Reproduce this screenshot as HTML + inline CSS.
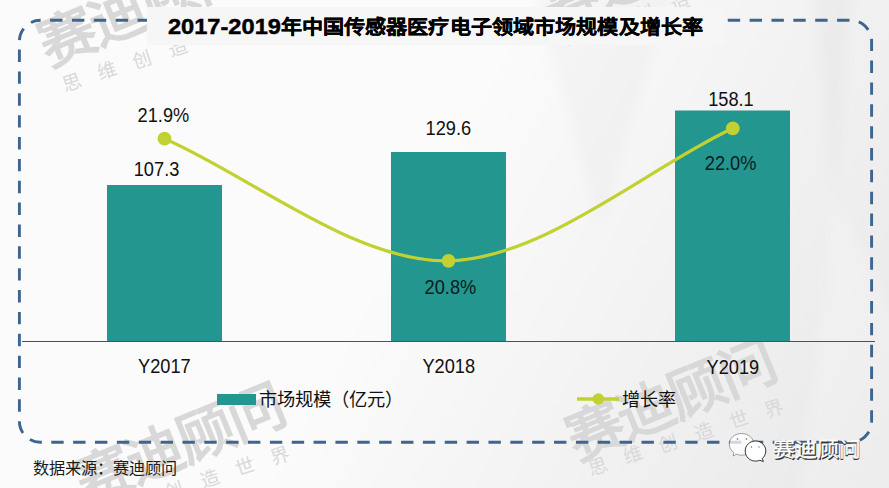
<!DOCTYPE html>
<html lang="zh-CN"><head><meta charset="utf-8">
<style>
html,body{margin:0;padding:0;width:889px;height:488px;overflow:hidden;background:#f6f6f6}
svg{display:block}
text{font-family:"Liberation Sans",sans-serif}
</style></head>
<body>
<svg width="889" height="488" viewBox="0 0 889 488">
<defs>
<linearGradient id="bg" x1="0" y1="0" x2="889" y2="488" gradientUnits="userSpaceOnUse">
<stop offset="0" stop-color="#000" stop-opacity="0"/>
<stop offset="0.45" stop-color="#000" stop-opacity="0"/>
<stop offset="1" stop-color="#000" stop-opacity="0.075"/>
</linearGradient>
<filter id="blur" x="-20%" y="-20%" width="140%" height="140%"><feGaussianBlur stdDeviation="6"/></filter>
</defs>
<rect x="0" y="0" width="889" height="488" fill="#fbfbfb"/>
<rect x="0" y="0" width="889" height="488" fill="url(#bg)"/>
<polygon points="534,-10 672,-10 600,230" fill="#000" fill-opacity="0.02" filter="url(#blur)"/>
<polygon points="812,-10 852,-10 835,200" fill="#000" fill-opacity="0.025" filter="url(#blur)"/>
<polygon points="835,200 800,500 900,500 900,330" fill="#fff" fill-opacity="0.2" filter="url(#blur)"/>
<g transform="translate(67,36) rotate(-22.4)"><text x="-28.5" y="21.7" font-size="57" fill="#d8d8d8" font-weight="900" letter-spacing="-2.3" style="font-family:'Liberation Serif',serif">赛迪顾问</text></g>
<g transform="translate(72,82) rotate(-18.3)"><text x="-9.5" y="7.2" font-size="19" fill="#d9d9d9" letter-spacing="18">思维创造世界</text></g>
<g transform="translate(571,0) rotate(-22.4)"><text x="-28.5" y="21.7" font-size="57" fill="#d8d8d8" font-weight="900" letter-spacing="-2.3" style="font-family:'Liberation Serif',serif">赛迪顾问</text></g>
<g transform="translate(574,36) rotate(-18.3)"><text x="-9.5" y="7.2" font-size="19" fill="#d9d9d9" letter-spacing="18">思维创造世界</text></g>
<g transform="translate(104,474) rotate(-22.4)"><text x="-28.5" y="21.7" font-size="57" fill="#d8d8d8" font-weight="900" letter-spacing="-2.3" style="font-family:'Liberation Serif',serif">赛迪顾问</text></g>
<g transform="translate(104,513) rotate(-18.3)"><text x="-9.5" y="7.2" font-size="19" fill="#d9d9d9" letter-spacing="18">思维创造世界</text></g>
<g transform="translate(595,430) rotate(-22.4)"><text x="-28.5" y="21.7" font-size="57" fill="#d8d8d8" font-weight="900" letter-spacing="-2.3" style="font-family:'Liberation Serif',serif">赛迪顾问</text></g>
<g transform="translate(598,466) rotate(-18.3)"><text x="-9.5" y="7.2" font-size="19" fill="#d9d9d9" letter-spacing="18">思维创造世界</text></g>
<rect x="19.4" y="20.3" width="852.2" height="422" rx="21" ry="21" fill="none" stroke="#3e6590" stroke-width="2.9" stroke-dasharray="12.4 9.46" stroke-dashoffset="-9.7"/>
<rect x="147" y="7" width="577" height="38" fill="#f6f6f6"/>
<text transform="translate(167.89,33.50) scale(1.07,1)" font-size="22.1" font-weight="bold" fill="#000" stroke="#000" stroke-width="0.45">2017-2019</text>
<text transform="translate(280.57,34.15) scale(1,0.89)" font-size="21.08" font-weight="bold" fill="#000" stroke="#000" stroke-width="0.35">年中国传感器医疗电子领域市场规模及增长率</text>
<rect x="107" y="185" width="115" height="156" fill="#22968f"/>
<rect x="391" y="152" width="115" height="189" fill="#22968f"/>
<rect x="675" y="110.5" width="115" height="230.5" fill="#22968f"/>
<rect x="22" y="341" width="853" height="1" fill="#2c5a82"/>
<path d="M164.5,138.7 C249.7,175.3 353.8,262.5 448.5,260.8 C543.2,259.1 647.5,168.1 732.8,128.3" fill="none" stroke="#c2d132" stroke-width="3.2"/>
<circle cx="164.5" cy="138.7" r="6.9" fill="#c2d132"/>
<circle cx="448.5" cy="260.8" r="6.9" fill="#c2d132"/>
<circle cx="732.8" cy="128.3" r="6.9" fill="#c2d132"/>
<text transform="translate(133.74,175.64) scale(0.942,1)" font-size="19.35" fill="#111">107.3</text><text transform="translate(425.54,134.74) scale(0.942,1)" font-size="19.35" fill="#111">129.6</text><text transform="translate(708.14,105.84) scale(0.942,1)" font-size="19.35" fill="#111">158.1</text><text transform="translate(137.59,121.74) scale(0.942,1)" font-size="19.35" fill="#111">21.9%</text><text transform="translate(424.59,293.84) scale(0.942,1)" font-size="19.35" fill="#0c1c20">20.8%</text><text transform="translate(704.79,169.84) scale(0.942,1)" font-size="19.35" fill="#0c1c20">22.0%</text><text transform="translate(138.05,373.04) scale(0.942,1)" font-size="19.35" fill="#111">Y2017</text><text transform="translate(422.45,373.34) scale(0.942,1)" font-size="19.35" fill="#111">Y2018</text><text transform="translate(706.55,373.54) scale(0.942,1)" font-size="19.35" fill="#111">Y2019</text>
<rect x="217" y="394" width="39" height="11" fill="#22968f"/>
<text x="259.38" y="406.29" font-size="18.3" fill="#111">市场规模（亿元）</text>
<line x1="577" y1="399" x2="619" y2="399" stroke="#c2d132" stroke-width="3.5"/>
<circle cx="598.4" cy="399" r="5.8" fill="#c2d132"/>
<text x="622.28" y="406.07" font-size="18.1" fill="#111">增长率</text>
<text x="33.35" y="473.85" font-size="16.2" fill="#1a1a1a">数据来源：赛迪顾问</text>
<g>
<path d="M741.5,433.5 C748.5,433.5 753.8,438.3 753.8,444.3 C753.8,450.3 748.5,455.2 741.5,455.2 C739.6,455.2 737.9,454.8 736.3,454.2 L733.2,456 L733.8,452.6 C731,450.6 729.3,447.7 729.3,444.3 C729.3,438.3 734.6,433.5 741.5,433.5 Z" fill="#fff" fill-opacity="0.75" stroke="#333" stroke-width="0.8" stroke-opacity="0.55"/>
<circle cx="737.5" cy="439" r="0.8" fill="#666"/><circle cx="746.5" cy="439" r="0.8" fill="#666"/>
<path d="M755.5,441 C761.3,441 765.8,445.4 765.8,451 C765.8,454 764.4,456.7 762.3,458.5 L763.3,461.5 L759.8,460.3 C758.4,460.8 757,461.1 755.5,461.1 C749.7,461.1 745.2,456.6 745.2,451 C745.2,445.4 749.7,441 755.5,441 Z" fill="#fff" stroke="#222" stroke-width="0.9"/>
<circle cx="751.5" cy="447" r="0.7" fill="#666"/><circle cx="759" cy="447" r="0.7" fill="#777"/>
</g>
<g transform="translate(773,457.3) scale(1,0.92)">
<text x="0.9" y="0.9" font-size="21.8" fill="#333" stroke="#333" stroke-width="0.9">赛迪顾问</text>
<text x="0" y="0" font-size="21.8" fill="#fff" stroke="#fff" stroke-width="0.3">赛迪顾问</text>
</g>
</svg>
</body></html>
